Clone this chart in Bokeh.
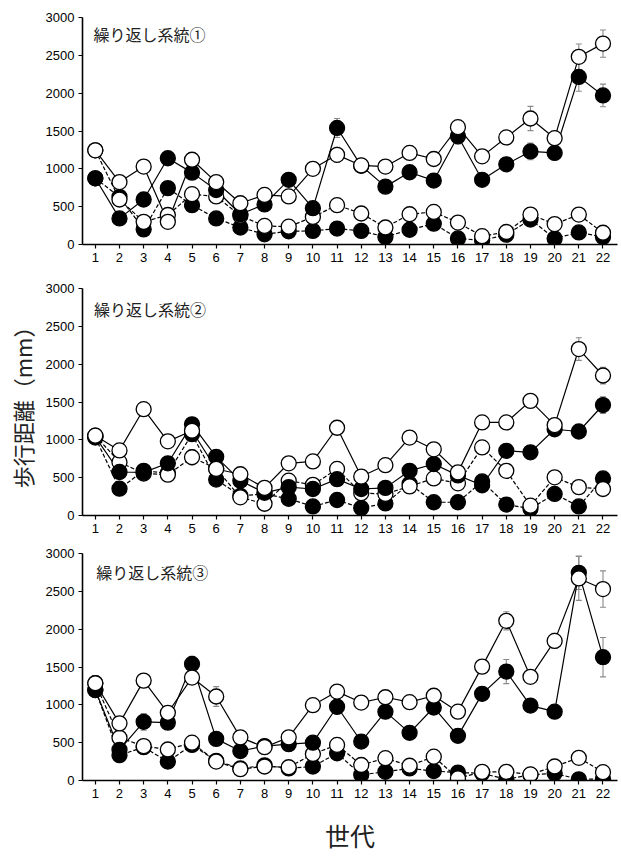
from bokeh.embed import file_html
from bokeh.layouts import column
from bokeh.models import ColumnDataSource, FixedTicker, Label, Range1d, TeeHead, Whisker
from bokeh.plotting import figure
from bokeh.resources import INLINE

# ---- data -------------------------------------------------------------
generations = list(range(1, 23))
y_ticks = [0, 500, 1000, 1500, 2000, 2500, 3000]

panel_titles = ["繰り返し系統①", "繰り返し系統②", "繰り返し系統③"]
x_title = "世代"
y_title = "歩行距離（mm）"

# replicate line 1
rep1_solid_black = [875, 345, 595, 1140, 950, 720, 400, 530, 855, 480, 1540, 1040, 765, 955, 845, 1430, 855, 1060, 1230, 1210, 2215, 1970]
rep1_solid_white = [1245, 825, 1030, 300, 1120, 825, 545, 655, 635, 1000, 1185, 1045, 1030, 1210, 1130, 1550, 1165, 1415, 1665, 1405, 2480, 2655]
rep1_dash_black = [875, 630, 200, 745, 520, 345, 225, 135, 175, 180, 210, 180, 100, 195, 275, 80, 55, 130, 330, 80, 160, 100]
rep1_dash_white = [1245, 595, 300, 390, 665, 635, 380, 245, 235, 365, 520, 410, 225, 400, 430, 290, 110, 165, 395, 270, 395, 155]
rep1_solid_black_se = [60, 40, 50, 60, 70, 50, 40, 40, 60, 50, 125, 60, 50, 90, 60, 100, 50, 80, 110, 90, 190, 150]
rep1_solid_white_se = [50, 40, 50, 40, 60, 50, 40, 40, 50, 50, 100, 50, 50, 70, 50, 60, 50, 90, 160, 60, 170, 180]
rep1_dash_black_se = [60, 30, 30, 40, 40, 30, 30, 20, 30, 30, 30, 30, 20, 30, 40, 20, 20, 20, 40, 20, 30, 20]
rep1_dash_white_se = [50, 30, 30, 30, 40, 40, 30, 30, 30, 30, 40, 30, 30, 40, 40, 30, 20, 30, 50, 30, 40, 30]

# replicate line 2
rep2_solid_black = [1040, 575, 570, 690, 1205, 775, 460, 300, 375, 350, 480, 350, 365, 590, 680, 530, 400, 855, 835, 1140, 1110, 1460]
rep2_solid_white = [1055, 860, 1405, 980, 1120, 615, 545, 365, 690, 715, 1160, 515, 665, 1030, 875, 570, 1230, 1230, 1515, 1195, 2200, 1850]
rep2_dash_black = [1030, 355, 590, 560, 1075, 475, 260, 285, 220, 120, 205, 100, 160, 420, 175, 175, 450, 145, 90, 285, 120, 490]
rep2_dash_white = [1055, 705, 555, 540, 770, 620, 240, 155, 460, 405, 615, 295, 285, 385, 490, 425, 900, 590, 130, 505, 375, 350]
rep2_solid_black_se = [50, 50, 50, 50, 90, 50, 40, 40, 40, 40, 50, 40, 50, 60, 60, 50, 50, 70, 60, 70, 80, 110]
rep2_solid_white_se = [50, 50, 60, 50, 60, 50, 40, 40, 50, 50, 60, 40, 40, 50, 50, 40, 60, 60, 60, 60, 150, 110]
rep2_dash_black_se = [50, 30, 40, 40, 60, 30, 30, 20, 30, 20, 30, 20, 30, 40, 30, 30, 40, 30, 20, 30, 20, 40]
rep2_dash_white_se = [50, 40, 80, 40, 100, 40, 30, 30, 40, 40, 40, 30, 30, 40, 40, 40, 80, 40, 30, 40, 40, 40]

# replicate line 3
rep3_solid_black = [1195, 405, 775, 765, 1540, 550, 390, 455, 480, 500, 975, 515, 910, 630, 965, 590, 1145, 1440, 990, 910, 2745, 1630]
rep3_solid_white = [1285, 755, 1320, 895, 1360, 1110, 570, 440, 570, 995, 1175, 1030, 1100, 1035, 1120, 910, 1505, 2110, 1370, 1845, 2670, 2530]
rep3_dash_black = [1195, 335, 440, 250, 470, 260, 160, 200, 160, 185, 360, 75, 115, 160, 125, 105, 95, 15, 75, 95, 15, 20]
rep3_dash_white = [1285, 565, 455, 410, 500, 250, 150, 185, 175, 350, 470, 205, 295, 195, 315, 30, 115, 115, 80, 185, 300, 110]
rep3_solid_black_se = [60, 50, 110, 60, 100, 50, 40, 50, 50, 50, 100, 50, 70, 60, 60, 50, 70, 160, 70, 60, 220, 260]
rep3_solid_white_se = [60, 50, 90, 60, 80, 130, 50, 40, 50, 60, 90, 70, 60, 50, 60, 50, 80, 120, 60, 100, 290, 240]
rep3_dash_black_se = [50, 40, 40, 30, 40, 30, 20, 30, 30, 30, 40, 20, 20, 30, 30, 20, 20, 10, 20, 20, 10, 10]
rep3_dash_white_se = [50, 40, 40, 40, 40, 30, 30, 30, 30, 40, 40, 30, 30, 30, 40, 20, 20, 20, 20, 30, 40, 30]

# ---- styling ----------------------------------------------------------
TICK_FONT = "Liberation Sans"
CJK_FONT = "Noto Sans CJK JP"
DASH = "4 2"


def style_axes(p):
    p.xaxis.ticker = FixedTicker(ticks=generations)
    p.yaxis.ticker = FixedTicker(ticks=y_ticks)
    for ax in (p.xaxis[0], p.yaxis[0]):
        ax.axis_line_color = "black"
        ax.axis_line_width = 1.6
        ax.major_tick_line_color = "black"
        ax.major_tick_line_width = 1.2
        ax.major_tick_out = 4
        ax.major_tick_in = 0
        ax.minor_tick_line_color = None
        ax.major_label_text_font = TICK_FONT
        ax.major_label_text_font_size = "13px"
        ax.major_label_text_color = "black"
        ax.major_label_standoff = 4
    p.xgrid.grid_line_color = None
    p.ygrid.grid_line_color = None
    p.outline_line_color = None


def add_series(p, ys, se, dashed, filled):
    src = ColumnDataSource(dict(
        x=generations, y=ys,
        lo=[v - e for v, e in zip(ys, se)],
        hi=[v + e for v, e in zip(ys, se)],
    ))
    p.line("x", "y", source=src, line_color="black", line_width=1.2,
           line_dash=DASH if dashed else "solid")
    w = Whisker(source=src, base="x", lower="lo", upper="hi", dimension="height",
                line_color="#8a8a8a", line_width=1.1,
                upper_head=TeeHead(size=6, line_color="#8a8a8a", line_width=1.1),
                lower_head=TeeHead(size=6, line_color="#8a8a8a", line_width=1.1))
    p.add_layout(w)
    return src, filled


def draw_markers(p, src, filled):
    p.scatter("x", "y", source=src, size=15, marker="circle",
              fill_color="black" if filled else "white",
              line_color="black", line_width=1.3)


def make_panel(title, title_xy, series, top, bottom):
    p = figure(frame_width=535, frame_height=227,
               min_border_left=82, min_border_right=4,
               min_border_top=top, min_border_bottom=bottom,
               x_range=Range1d(0.47, 22.6), y_range=Range1d(0, 3000),
               output_backend="svg", toolbar_location=None,
               background_fill_color="white", border_fill_color="white")
    style_axes(p)
    made = [add_series(p, *s) for s in series]
    for src, filled in made:
        draw_markers(p, src, filled)
    p.add_layout(Label(x=title_xy[0], y=title_xy[1], text=title,
                       text_font=CJK_FONT, text_font_size="16px",
                       text_color="#222222", text_baseline="middle",
                       text_align="left"))
    return p


p1 = make_panel(panel_titles[0], (0.92, 2780), [
    (rep1_dash_black, rep1_dash_black_se, True, True),
    (rep1_dash_white, rep1_dash_white_se, True, False),
    (rep1_solid_black, rep1_solid_black_se, False, True),
    (rep1_solid_white, rep1_solid_white_se, False, False),
], top=17, bottom=26)

p2 = make_panel(panel_titles[1], (0.95, 2725), [
    (rep2_dash_black, rep2_dash_black_se, True, True),
    (rep2_dash_white, rep2_dash_white_se, True, False),
    (rep2_solid_black, rep2_solid_black_se, False, True),
    (rep2_solid_white, rep2_solid_white_se, False, False),
], top=18, bottom=22)

p3 = make_panel(panel_titles[2], (1.04, 2755), [
    (rep3_dash_black, rep3_dash_black_se, True, True),
    (rep3_dash_white, rep3_dash_white_se, True, False),
    (rep3_solid_black, rep3_solid_black_se, False, True),
    (rep3_solid_white, rep3_solid_white_se, False, False),
], top=16, bottom=79)

# shared y title on the middle panel's axis
p2.yaxis.axis_label = y_title
p2.yaxis.axis_label_text_font = CJK_FONT
p2.yaxis.axis_label_text_font_size = "22px"
p2.yaxis.axis_label_text_font_style = "normal"
p2.yaxis.axis_label_text_color = "#222222"
p2.yaxis.axis_label_standoff = 5

# x title under the bottom panel
p3.xaxis.axis_label = x_title
p3.xaxis.axis_label_text_font = CJK_FONT
p3.xaxis.axis_label_text_font_size = "25px"
p3.xaxis.axis_label_text_font_style = "normal"
p3.xaxis.axis_label_text_color = "#222222"
p3.xaxis.axis_label_standoff = 16

layout = column(p1, p2, p3, spacing=0)

with open("out.html", "w") as f:
    f.write(file_html(layout, INLINE))
